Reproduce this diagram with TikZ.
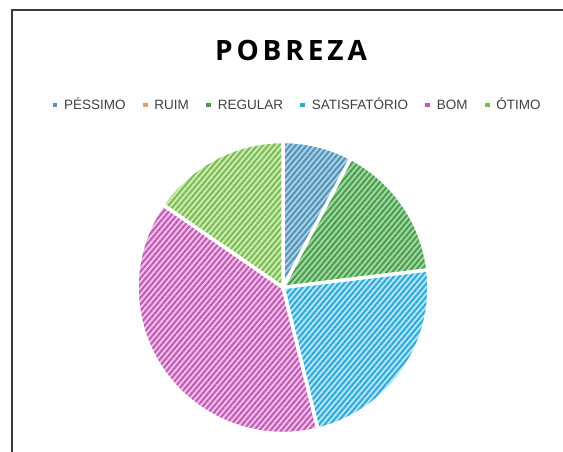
\documentclass[tikz,border=0pt]{standalone}
\usepackage{fontspec}
\setmainfont{Liberation Sans}
\newfontfamily\titlefont[LetterSpace=14]{Open Sans}
\usepackage{xcolor}
\usetikzlibrary{positioning,patterns.meta}

\definecolor{framegray}{HTML}{3A3A3A}
\definecolor{textgray}{HTML}{404040}
\definecolor{pessimoA}{HTML}{A8D2E8}
\definecolor{pessimoB}{HTML}{5592B3}
\definecolor{ruimK}{HTML}{E89A62}
\definecolor{regularA}{HTML}{A2D9A0}
\definecolor{regularB}{HTML}{4A9C50}
\definecolor{satisA}{HTML}{AEE6FA}
\definecolor{satisB}{HTML}{34A8D4}
\definecolor{bomA}{HTML}{F6BCF0}
\definecolor{bomB}{HTML}{BA5EAE}
\definecolor{otimoA}{HTML}{CCEDB0}
\definecolor{otimoB}{HTML}{7CBA58}

\begin{document}
\begin{tikzpicture}[
    x=1pt, y=1pt,
    key/.style={rectangle, minimum size=4.5pt, inner sep=0pt},
    legtext/.style={font=\fontsize{13.5}{16}\selectfont, text=textgray, inner sep=0pt, text height=10pt, text depth=0pt, right=6.5pt of #1},
    nextkey/.style={key, right=17pt of #1},
    slice/.style={draw=white, line width=3.5pt, line join=round},
    hatch/.style={preaction={fill=#1A}, pattern={Lines[angle=50, distance=4.2pt, line width=2pt]}, pattern color=#1B}
]
\useasboundingbox (0,0) rectangle (563,452);
\fill[white] (0,0) rectangle (563,452);

% Frame (open to the right and bottom)
\draw[line width=2pt, framegray] (11.5,0) |- (563,441.5);

% Title
\node[font=\titlefont\bfseries\fontsize{28}{34}\selectfont, text=black] (title) at (291,402) {POBREZA};

% Legend
\node[key, fill=pessimoB] (kpessimo) at (55,347) {};
\node[legtext=kpessimo] (tpessimo) {PÉSSIMO};
\node[nextkey=tpessimo, fill=ruimK] (kruim) {};
\node[legtext=kruim] (truim) {RUIM};
\node[nextkey=truim, fill=regularB] (kregular) {};
\node[legtext=kregular] (tregular) {REGULAR};
\node[nextkey=tregular, fill=satisB] (ksatis) {};
\node[legtext=ksatis] (tsatis) {SATISFATÓRIO};
\node[nextkey=tsatis, fill=bomB] (kbom) {};
\node[legtext=kbom] (tbom) {BOM};
\node[nextkey=tbom, fill=otimoB] (kotimo) {};
\node[legtext=kotimo] (totimo) {ÓTIMO};

% Pie
\coordinate (c) at (283,164.5);
\path[slice, hatch=pessimo] (c) -- ++(90:146) arc[start angle=90, end angle=62.3, radius=146] -- cycle;
\path[slice, hatch=regular] (c) -- ++(62.3:146) arc[start angle=62.3, end angle=6.9, radius=146] -- cycle;
\path[slice, hatch=satis] (c) -- ++(6.9:146) arc[start angle=6.9, end angle=-76.2, radius=146] -- cycle;
\path[slice, hatch=bom] (c) -- ++(-76.2:146) arc[start angle=-76.2, end angle=-214.6, radius=146] -- cycle;
\path[slice, hatch=otimo] (c) -- ++(-214.6:146) arc[start angle=-214.6, end angle=-270, radius=146] -- cycle;

\end{tikzpicture}
\end{document}
